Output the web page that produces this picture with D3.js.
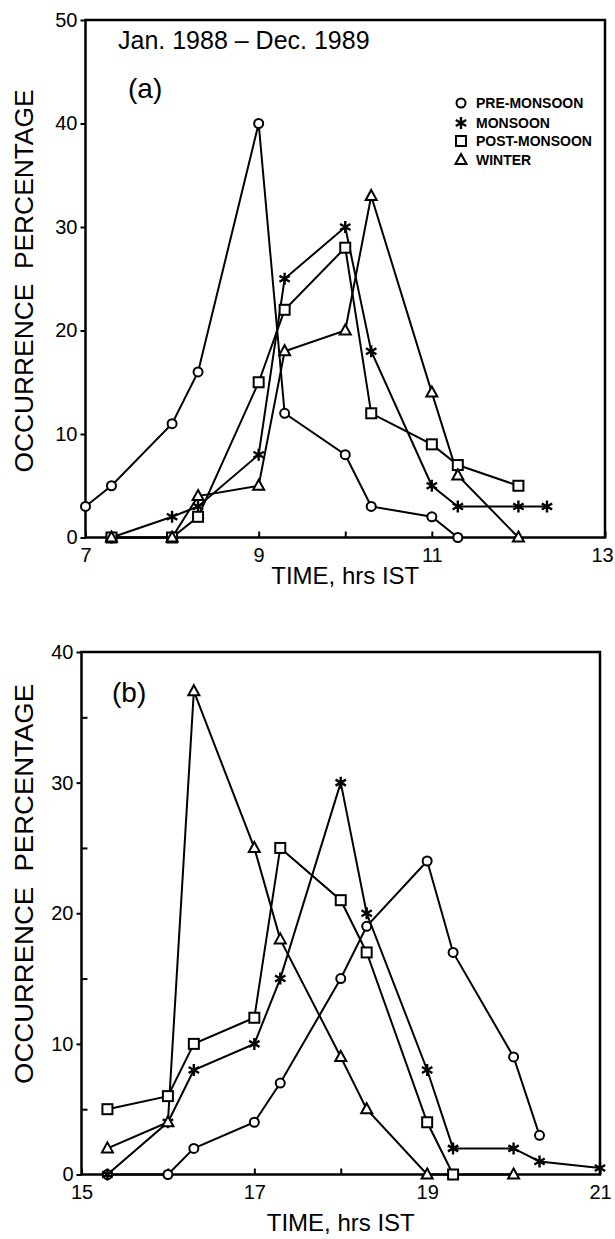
<!DOCTYPE html>
<html>
<head>
<meta charset="utf-8">
<script src="https://cdn.jsdelivr.net/npm/d3@7"></script>
<style>
	body { margin:0; background:#fff; }
	svg { display:block; font-family:'Liberation Sans', Arial, sans-serif; }
</style>
</head>
<body>
<svg id="chart" width="615" height="1239"></svg>
<script>
// Seasons and the marker each one uses (same order everywhere)
const SEASONS = ['PRE-MONSOON', 'MONSOON', 'POST-MONSOON', 'WINTER'];
const MARKERS = ['circle', 'star', 'square', 'triangle'];

// (a) morning, hrs IST
const amPreTime  = [7, 7.3, 8, 8.3, 9, 9.3, 10, 10.3, 11, 11.3];
const amPreVal   = [3, 5, 11, 16, 40, 12, 8, 3, 2, 0];
const amMonTime  = [7.3, 8, 8.3, 9, 9.3, 10, 10.3, 11, 11.3, 12, 12.33];
const amMonVal   = [0, 2, 3, 8, 25, 30, 18, 5, 3, 3, 3];
const amPostTime = [7.3, 8, 8.3, 9, 9.3, 10, 10.3, 11, 11.3, 12];
const amPostVal  = [0, 0, 2, 15, 22, 28, 12, 9, 7, 5];
const amWinTime  = [7.3, 8, 8.3, 9, 9.3, 10, 10.3, 11, 11.3, 12];
const amWinVal   = [0, 0, 4, 5, 18, 20, 33, 14, 6, 0];

// (b) evening, hrs IST
const pmPreTime  = [15.3, 16, 16.3, 17, 17.3, 18, 18.3, 19, 19.3, 20, 20.3];
const pmPreVal   = [0, 0, 2, 4, 7, 15, 19, 24, 17, 9, 3];
const pmMonTime  = [15.3, 16, 16.3, 17, 17.3, 18, 18.3, 19, 19.3, 20, 20.3, 21];
const pmMonVal   = [0, 4, 8, 10, 15, 30, 20, 8, 2, 2, 1, 0.5];
const pmPostTime = [15.3, 16, 16.3, 17, 17.3, 18, 18.3, 19, 19.3];
const pmPostVal  = [5, 6, 10, 12, 25, 21, 17, 4, 0];
const pmWinTime  = [15.3, 16, 16.3, 17, 17.3, 18, 18.3, 19, 20];
const pmWinVal   = [2, 4, 37, 25, 18, 9, 5, 0, 0];

// axis ticks
const amXTicks = [7, 8, 9, 10, 11, 12, 13];
const amXLabels = [7, 9, 11, 13];
const amYTicks = [0, 10, 20, 30, 40, 50];
const pmXTicks = [15, 16, 17, 18, 19, 20, 21];
const pmXLabels = [15, 17, 19, 21];
const pmYTicks = [0, 10, 20, 30, 40];
const pmYMinor = [5, 15, 25, 35];

const TITLE = 'Jan. 1988 \u2013 Dec. 1989';
const YTITLE = 'OCCURRENCE  PERCENTAGE';
const XTITLE = 'TIME, hrs IST';

const svg = d3.select('svg#chart');

const zip = (t, v) => t.map((d, i) => ({t: d, v: v[i]}));

function marker(sel, type) {
	if (type === 'circle') {
		sel.append('circle').attr('r', 4.5);
	} else if (type === 'square') {
		sel.append('rect').attr('x', -5).attr('y', -5).attr('width', 10).attr('height', 10);
	} else if (type === 'triangle') {
		sel.append('path').attr('d', 'M0,-6L5.5,4L-5.5,4Z');
	} else {
		// six armed asterisk
		const r = 6;
		const p = [90, 30, 150].map(a => {
			const c = Math.cos(a * Math.PI / 180) * r, s = Math.sin(a * Math.PI / 180) * r;
			return `M${-c},${-s}L${c},${s}`;
		}).join('');
		sel.append('path').attr('d', p).attr('stroke-width', 2.4);
	}
}

function drawPanel(cfg) {
	const x = d3.scaleLinear().domain(cfg.xDomain).range([cfg.left, cfg.right]);
	const y = d3.scaleLinear().domain(cfg.yDomain).range([cfg.bottom, cfg.top]);
	const g = svg.append('g');

	// y axis, major ticks outward
	g.append('g')
		.attr('transform', `translate(${cfg.left},0)`)
		.call(d3.axisLeft(y).tickValues(cfg.yTicks).tickSize(5).tickPadding(3).tickSizeOuter(0))
		.call(a => a.select('.domain').remove())
		.call(a => a.selectAll('line').attr('stroke-width', 2))
		.call(a => a.selectAll('text').attr('font-size', 20).attr('font-family', "'Liberation Sans', Arial, sans-serif"));

	// minor y ticks inward
	if (cfg.yMinor) {
		g.append('g')
			.attr('transform', `translate(${cfg.left},0)`)
			.call(d3.axisLeft(y).tickValues(cfg.yMinor).tickSize(-6).tickFormat(''))
			.call(a => a.select('.domain').remove())
			.call(a => a.selectAll('line').attr('stroke-width', 2));
	}

	// x axis, ticks inward
	const last = cfg.xLabels[cfg.xLabels.length - 1];
	g.append('g')
		.attr('transform', `translate(0,${cfg.bottom})`)
		.call(d3.axisBottom(x).tickValues(cfg.xTicks).tickSize(-6).tickPadding(10)
			.tickFormat(d => cfg.xLabels.includes(d) ? d : ''))
		.call(a => a.select('.domain').remove())
		.call(a => a.selectAll('line').attr('stroke-width', 2))
		.call(a => a.selectAll('text').attr('font-size', 20).attr('font-family', "'Liberation Sans', Arial, sans-serif"))
		// keep the last label inside the page edge
		.call(a => a.selectAll('.tick').filter(d => d === last).select('text').attr('dx', cfg.lastDx || 0));

	// frame
	g.append('rect')
		.attr('x', cfg.left).attr('y', cfg.top)
		.attr('width', cfg.right - cfg.left).attr('height', cfg.bottom - cfg.top)
		.attr('fill', 'none').attr('stroke', '#000').attr('stroke-width', 2.5);

	const line = d3.line().x(d => x(d.t)).y(d => y(d.v));

	cfg.series.forEach(s => {
		g.append('path').datum(s.data)
			.attr('d', line)
			.attr('fill', 'none').attr('stroke', '#000').attr('stroke-width', 2);
	});
	cfg.series.forEach(s => {
		g.selectAll(null).data(s.data).enter().append('g')
			.attr('transform', d => `translate(${x(d.t)},${y(d.v)})`)
			.attr('fill', '#fff').attr('stroke', '#000').attr('stroke-width', 2)
			.each(function () { marker(d3.select(this), s.marker); });
	});

	// titles
	svg.append('text')
		.attr('transform', `translate(${cfg.yTitleX},${cfg.yTitleY}) rotate(-90)`)
		.attr('text-anchor', 'middle').attr('font-size', 26)
		.attr('textLength', cfg.yTitleLen).attr('lengthAdjust', 'spacingAndGlyphs')
		.style('white-space', 'pre')
		.text(YTITLE);
	svg.append('text')
		.attr('x', (cfg.left + cfg.right) / 2).attr('y', cfg.xTitleY)
		.attr('text-anchor', 'middle').attr('font-size', 24)
		.text(XTITLE);
	svg.append('text')
		.attr('x', cfg.tagX).attr('y', cfg.tagY)
		.attr('font-size', 28)
		.text(cfg.tag);
}

drawPanel({
	xDomain: [7, 13], yDomain: [0, 50],
	left: 85.5, right: 605, top: 20, bottom: 537.5,
	xTicks: amXTicks, xLabels: amXLabels, yTicks: amYTicks, lastDx: -3,
	yTitleX: 33, yTitleY: 281, yTitleLen: 383, xTitleY: 584,
	tag: '(a)', tagX: 128, tagY: 98,
	series: [
		{marker: MARKERS[0], data: zip(amPreTime, amPreVal)},
		{marker: MARKERS[1], data: zip(amMonTime, amMonVal)},
		{marker: MARKERS[2], data: zip(amPostTime, amPostVal)},
		{marker: MARKERS[3], data: zip(amWinTime, amWinVal)}
	]
});

drawPanel({
	xDomain: [15, 21], yDomain: [0, 40],
	left: 81.5, right: 600, top: 652, bottom: 1174.5,
	xTicks: pmXTicks, xLabels: pmXLabels, yTicks: pmYTicks, yMinor: pmYMinor,
	yTitleX: 33, yTitleY: 884, yTitleLen: 400, xTitleY: 1231,
	tag: '(b)', tagX: 112, tagY: 702,
	series: [
		{marker: MARKERS[0], data: zip(pmPreTime, pmPreVal)},
		{marker: MARKERS[1], data: zip(pmMonTime, pmMonVal)},
		{marker: MARKERS[2], data: zip(pmPostTime, pmPostVal)},
		{marker: MARKERS[3], data: zip(pmWinTime, pmWinVal)}
	]
});

// date range title in panel (a)
svg.append('text')
	.attr('x', 118).attr('y', 49)
	.attr('font-size', 25)
	.text(TITLE);

// legend in panel (a)
const legend = svg.append('g').attr('transform', 'translate(461,103)');
SEASONS.forEach((name, i) => {
	const row = legend.append('g').attr('transform', `translate(0,${[0, 20, 38, 57][i]})`);
	const m = row.append('g').attr('fill', '#fff').attr('stroke', '#000').attr('stroke-width', 2);
	marker(m, MARKERS[i]);
	row.append('text')
		.attr('x', 15).attr('y', 5)
		.attr('font-size', 14).attr('font-weight', 'bold')
		.text(name);
});
</script>
</body>
</html>
